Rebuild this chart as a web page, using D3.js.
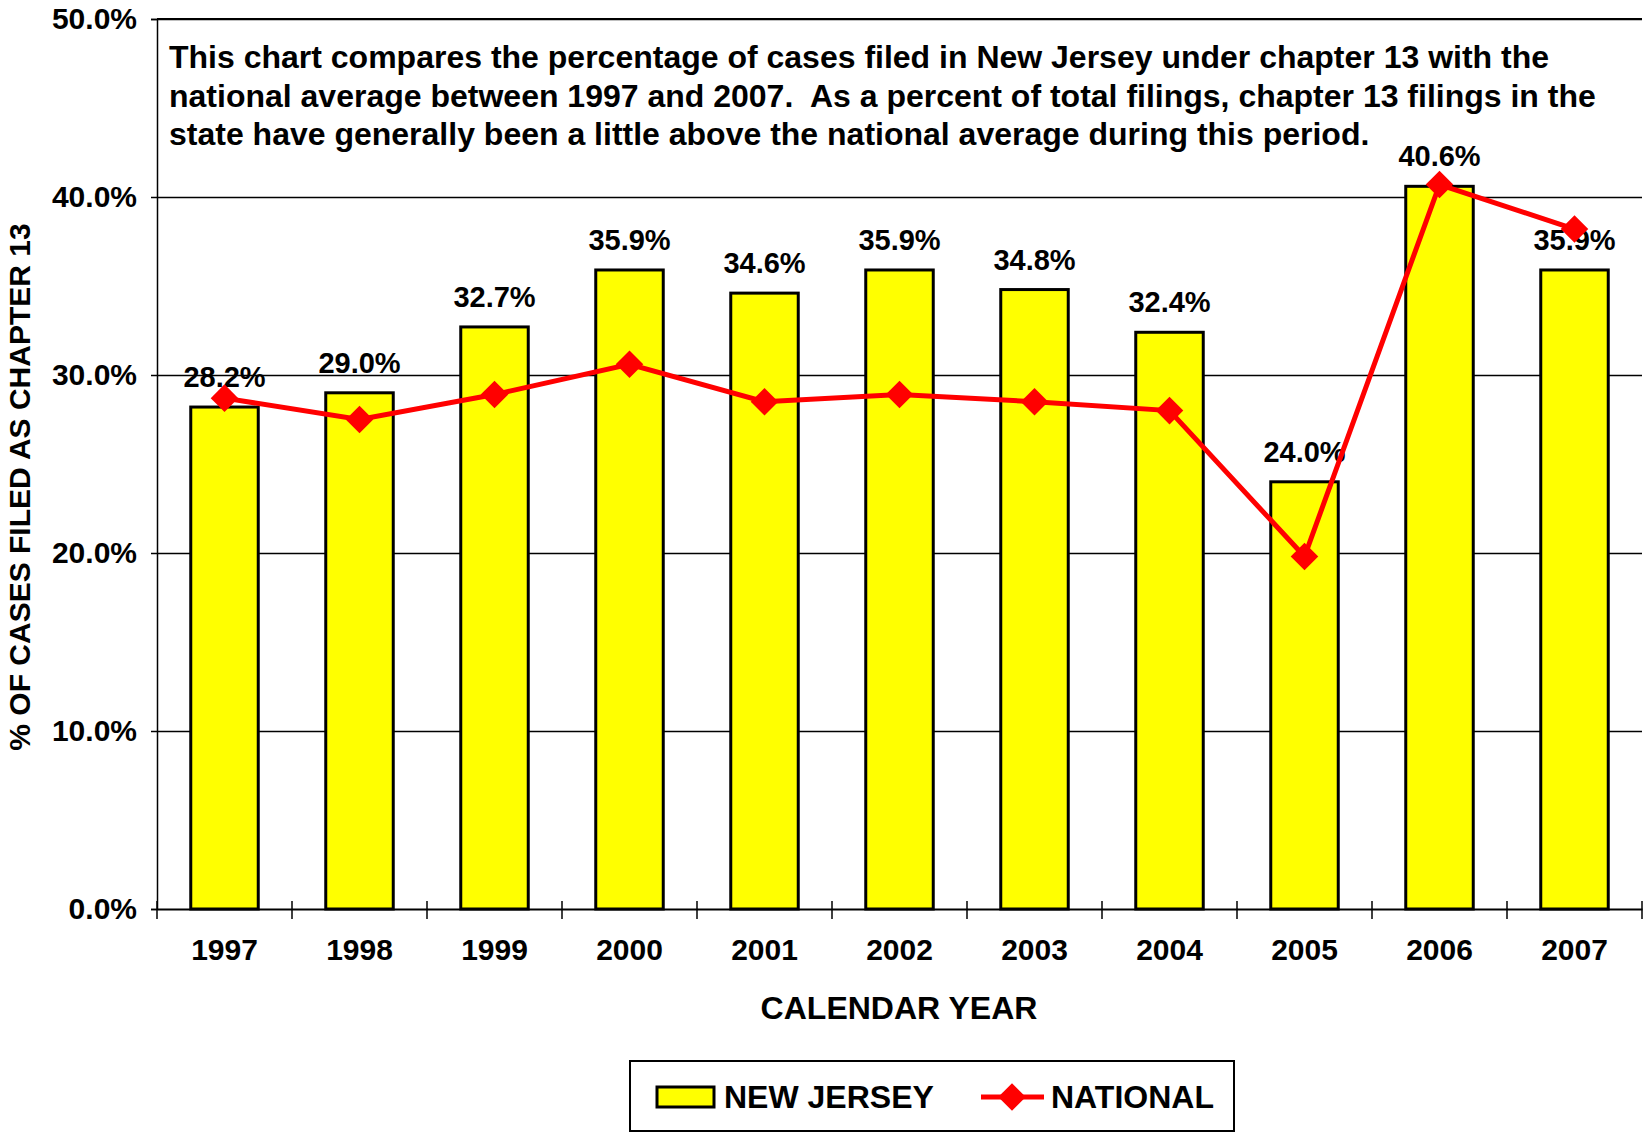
<!DOCTYPE html>
<html>
<head>
<meta charset="utf-8">
<script src="https://cdn.jsdelivr.net/npm/d3@7"></script>
<style>
  body { margin: 0; background: #fff; }
  svg { display: block; font-family: "Liberation Sans", Arial, sans-serif; font-weight: bold; }
  .grid line { stroke: #000; stroke-width: 1.5; }
  .grid path { display: none; }
  .note { white-space: pre; }
</style>
</head>
<body>
<svg id="chart" width="1643" height="1134"></svg>
<script>
// data
const years = ["1997", "1998", "1999", "2000", "2001", "2002", "2003", "2004", "2005", "2006", "2007"];
const newJersey = [28.2, 29.0, 32.7, 35.9, 34.6, 35.9, 34.8, 32.4, 24.0, 40.6, 35.9];
const national = [28.7, 27.5, 28.9, 30.6, 28.5, 28.9, 28.5, 28.0, 19.8, 40.7, 38.2];
const yTicks = [0, 10, 20, 30, 40, 50];
const note = [
    "This chart compares the percentage of cases filed in New Jersey under chapter 13 with the",
    "national average between 1997 and 2007.  As a percent of total filings, chapter 13 filings in the",
    "state have generally been a little above the national average during this period."
];

const plotLeft = 157, plotRight = 1642, plotTop = 19, plotBottom = 909;

let svg = d3.select("#chart");

let x = d3.scaleBand()
    .domain(years)
    .range([plotLeft, plotRight])
    .paddingInner(0.5)
    .paddingOuter(0.25);

let y = d3.scaleLinear()
    .domain([0, 50])
    .range([plotBottom, plotTop]);

// gridlines
svg.append("g")
    .attr("class", "grid")
    .attr("transform", "translate(" + plotLeft + ",0)")
    .call(d3.axisRight(y).tickValues(yTicks.slice(1)).tickSize(plotRight - plotLeft).tickFormat(""));

// y axis
let yAxis = svg.append("g")
    .attr("transform", "translate(" + plotLeft + ",0)")
    .call(d3.axisLeft(y).tickValues(yTicks).tickSize(6).tickPadding(14)
        .tickFormat(d => d.toFixed(1) + "%"));
yAxis.select(".domain").attr("stroke", "#000").attr("stroke-width", 1.5);
yAxis.selectAll("line").attr("stroke", "#000").attr("stroke-width", 1.5);
yAxis.selectAll("text")
    .attr("font-size", 30)
    .attr("font-family", "Liberation Sans, Arial, sans-serif")
    .attr("font-weight", "bold")
    .attr("fill", "#000");

// x axis: ticks sit between categories
let xAxis = svg.append("g")
    .attr("transform", "translate(0," + plotBottom + ")")
    .call(d3.axisBottom(x).tickSize(0).tickPadding(30));
xAxis.select(".domain").attr("stroke", "#000").attr("stroke-width", 2);
xAxis.selectAll("text")
    .attr("font-size", 30)
    .attr("font-family", "Liberation Sans, Arial, sans-serif")
    .attr("font-weight", "bold")
    .attr("fill", "#000");

let step = x.step();
let bounds = d3.range(years.length + 1).map(i => plotLeft + i * step);
svg.append("g").selectAll("line")
    .data(bounds)
    .enter().append("line")
    .attr("x1", d => d).attr("x2", d => d)
    .attr("y1", plotBottom - 8).attr("y2", plotBottom + 10)
    .attr("stroke", "#000")
    .attr("stroke-width", 1.5);

// top border of plot area
svg.append("line")
    .attr("x1", plotLeft).attr("x2", plotRight)
    .attr("y1", plotTop).attr("y2", plotTop)
    .attr("stroke", "#000")
    .attr("stroke-width", 2);

// bars
svg.append("g").selectAll("rect")
    .data(newJersey)
    .enter().append("rect")
    .attr("x", (d, i) => x(years[i]))
    .attr("y", d => y(d))
    .attr("width", x.bandwidth())
    .attr("height", d => plotBottom - y(d))
    .attr("fill", "#ffff00")
    .attr("stroke", "#000")
    .attr("stroke-width", 3);

// bar labels
svg.append("g").selectAll("text")
    .data(newJersey)
    .enter().append("text")
    .attr("x", (d, i) => x(years[i]) + x.bandwidth() / 2)
    .attr("y", d => y(d) - 20)
    .attr("text-anchor", "middle")
    .attr("font-size", 29)
    .text(d => d.toFixed(1) + "%");

// national line
let line = d3.line()
    .x((d, i) => x(years[i]) + x.bandwidth() / 2)
    .y(d => y(d));

svg.append("path")
    .datum(national)
    .attr("d", line)
    .attr("fill", "none")
    .attr("stroke", "#ff0000")
    .attr("stroke-width", 5);

let diamond = d3.symbol().type(d3.symbolSquare).size(380);
svg.append("g").selectAll("path")
    .data(national)
    .enter().append("path")
    .attr("d", diamond)
    .attr("transform", (d, i) => "translate(" + (x(years[i]) + x.bandwidth() / 2) + "," + y(d) + ") rotate(45)")
    .attr("fill", "#ff0000");

// note text
svg.append("g").selectAll("text")
    .data(note)
    .enter().append("text")
    .attr("class", "note")
    .attr("x", 169)
    .attr("y", (d, i) => 68 + i * 38.5)
    .attr("font-size", 32)
    .text(d => d);

// axis titles
svg.append("text")
    .attr("transform", "translate(30,487) rotate(-90)")
    .attr("text-anchor", "middle")
    .attr("font-size", 30)
    .text("% OF CASES FILED AS CHAPTER 13");

svg.append("text")
    .attr("x", 899)
    .attr("y", 1019)
    .attr("text-anchor", "middle")
    .attr("font-size", 32)
    .text("CALENDAR YEAR");

// legend
let legend = svg.append("g");
legend.append("rect")
    .attr("x", 630).attr("y", 1061)
    .attr("width", 604).attr("height", 70)
    .attr("fill", "#fff")
    .attr("stroke", "#000")
    .attr("stroke-width", 2);
legend.append("rect")
    .attr("x", 657).attr("y", 1087)
    .attr("width", 57).attr("height", 20)
    .attr("fill", "#ffff00")
    .attr("stroke", "#000")
    .attr("stroke-width", 3);
legend.append("text")
    .attr("x", 724).attr("y", 1108)
    .attr("font-size", 32)
    .text("NEW JERSEY");
legend.append("line")
    .attr("x1", 981).attr("x2", 1044)
    .attr("y1", 1097).attr("y2", 1097)
    .attr("stroke", "#ff0000")
    .attr("stroke-width", 5);
legend.append("path")
    .attr("d", diamond)
    .attr("transform", "translate(1012,1097) rotate(45)")
    .attr("fill", "#ff0000");
legend.append("text")
    .attr("x", 1051).attr("y", 1108)
    .attr("font-size", 32)
    .text("NATIONAL");
</script>
</body>
</html>
